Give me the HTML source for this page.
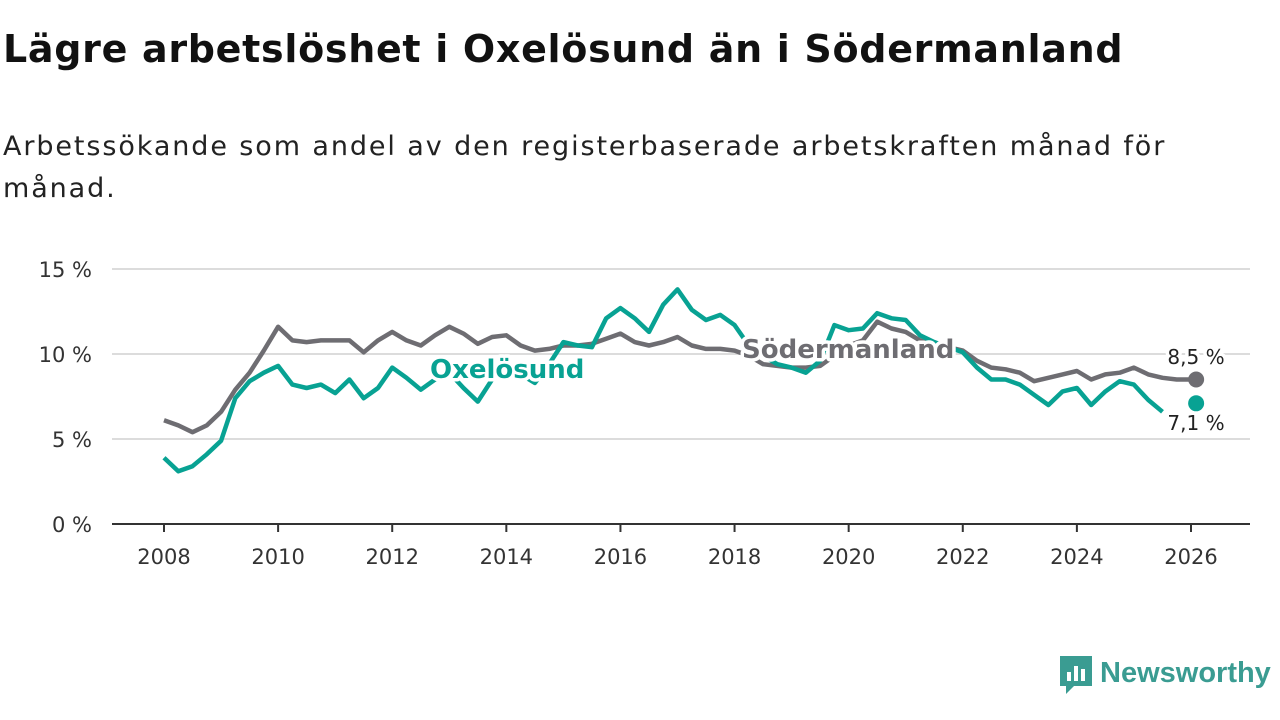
<!DOCTYPE html>
<html><head><meta charset="utf-8"><style>
body{margin:0;width:1280px;height:720px;background:#fff;font-family:"DejaVu Sans","Liberation Sans",sans-serif;overflow:hidden}
h1{position:absolute;left:3px;top:27px;margin:0;font-size:38px;letter-spacing:0.7px;font-weight:bold;color:#111;white-space:nowrap}
.sub{position:absolute;left:3px;top:126px;font-size:27px;letter-spacing:1.9px;line-height:42px;color:#222;width:1200px}
svg{position:absolute;left:0;top:0}
</style></head><body>
<h1>Lägre arbetslöshet i Oxelösund än i Södermanland</h1>
<div class="sub">Arbetssökande som andel av den registerbaserade arbetskraften månad för månad.</div>
<svg id="c" width="1280" height="720"></svg>
<script>
const years=[2008,2010,2012,2014,2016,2018,2020,2022,2024,2026];
const yTicks=[0,5,10,15];
const yTickLabels=["0 %","5 %","10 %","15 %"];
const tStart=2008, tStep=0.25;
const sodermanland=[6.1,5.8,5.4,5.8,6.6,7.9,8.9,10.2,11.6,10.8,10.7,10.8,10.8,10.8,10.1,10.8,11.3,10.8,10.5,11.1,11.6,11.2,10.6,11.0,11.1,10.5,10.2,10.3,10.5,10.5,10.6,10.9,11.2,10.7,10.5,10.7,11.0,10.5,10.3,10.3,10.2,9.9,9.4,9.3,9.2,9.2,9.3,9.9,10.5,10.8,11.9,11.5,11.3,10.8,10.5,10.4,10.2,9.6,9.2,9.1,8.9,8.4,8.6,8.8,9.0,8.5,8.8,8.9,9.2,8.8,8.6,8.5,8.5];
const oxelosund=[3.9,3.1,3.4,4.1,4.9,7.4,8.4,8.9,9.3,8.2,8.0,8.2,7.7,8.5,7.4,8.0,9.2,8.6,7.9,8.5,8.9,8.0,7.2,8.5,9.1,8.8,8.3,9.4,10.7,10.5,10.4,12.1,12.7,12.1,11.3,12.9,13.8,12.6,12.0,12.3,11.7,10.5,9.9,9.4,9.2,8.9,9.6,11.7,11.4,11.5,12.4,12.1,12.0,11.1,10.7,10.4,10.1,9.2,8.5,8.5,8.2,7.6,7.0,7.8,8.0,7.0,7.8,8.4,8.2,7.3,6.6,null,7.1];
const lastT=2026.09;
const ns="http://www.w3.org/2000/svg",svg=document.getElementById('c');
const X=t=>164+(t-2008)*(1191-164)/18, Y=v=>524-v*17;
function el(tag,a,txt){const e=document.createElementNS(ns,tag);for(const k in a)e.setAttribute(k,a[k]);if(txt!=null)e.textContent=txt;svg.appendChild(e);return e;}
yTicks.forEach((v,i)=>{
 if(v>0){const g=el('line',{x1:112,x2:1250,y1:Y(v),y2:Y(v),stroke:'#dcdcdc','stroke-width':2});
 
 }
 const t=el('text',{x:92,y:Y(v)+8,'text-anchor':'end','font-size':21,fill:'#333'},yTickLabels[i]);
 
 
});
const ax=el('line',{x1:112,x2:1250,y1:524,y2:524,stroke:'#333','stroke-width':2});


years.forEach(y=>{
 const tk=el('line',{x1:X(y),x2:X(y),y1:524,y2:532,stroke:'#333','stroke-width':2});
 
 
 const t=el('text',{x:X(y),y:564,'text-anchor':'middle','font-size':21,fill:'#333'},y);
 
 
});
function path(arr,color,name){
 let d='',pen=false;
 arr.forEach((v,i)=>{ if(v==null){pen=false;return;}
  const t=i==arr.length-1?lastT:tStart+i*tStep;
  d+=(pen?'L':'M')+X(t).toFixed(1)+','+Y(v).toFixed(1);pen=true;});
 const p=el('path',{d:d,fill:'none',stroke:color,'stroke-width':4.5,'stroke-linejoin':'round'});
 
 
 const v=arr[arr.length-1];
 const c=el('circle',{cx:X(lastT),cy:Y(v),r:8,fill:color});
 
 
}
path(sodermanland,'#6e6d72','sodermanland-line');
path(oxelosund,'#08a293','oxelosund-line');
function label(x,y,txt,color,size,weight,anchor,name){
 const t=el('text',{x:x,y:y,'font-size':size,'font-weight':weight,fill:color,'text-anchor':anchor,stroke:'#fff','stroke-width':7,'paint-order':'stroke','stroke-linejoin':'round'},txt);
 
 
}
label(430,378,'Oxelösund','#08a293',26,'bold','start','oxelosund-label');
label(742,358,'Södermanland','#6e6d72',26,'bold','start','sodermanland-label');
label(1196,364,(sodermanland[sodermanland.length-1]+'').replace('.',',')+' %','#222',20,'normal','middle','sodermanland-end-value');
label(1196,430,(oxelosund[oxelosund.length-1]+'').replace('.',',')+' %','#222',20,'normal','middle','oxelosund-end-value');
</script>
<svg width="1280" height="720" style="pointer-events:none">
<path d="M1060 656h32v30h-18l-8 8v-8h-6z" fill="#3a9c92"/>
<rect x="1067" y="672" width="4" height="9" fill="#fff"/><rect x="1074" y="666" width="4" height="15" fill="#fff"/><rect x="1081" y="669" width="4" height="12" fill="#fff"/>
<text x="1100" y="682" font-size="29" font-weight="bold" fill="#3a9c92" font-family="Liberation Sans, sans-serif">Newsworthy</text>
</svg>
</body></html>
